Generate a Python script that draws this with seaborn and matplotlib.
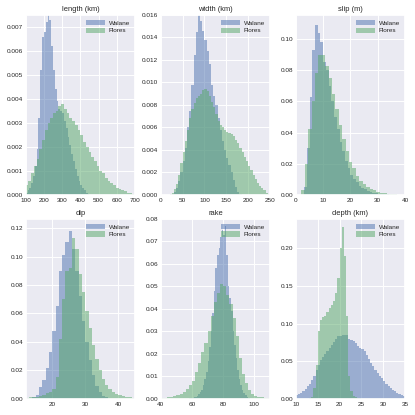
import numpy as np
import pandas as pd
import matplotlib
matplotlib.use("Agg")
import matplotlib.pyplot as plt
import matplotlib.ticker as mticker
import seaborn as sns

# ---------------- data (density heights per bin) ----------------
series_names = ["Walane", "Flores"]
panel_titles = ["length (km)", "width (km)", "slip (m)", "dip", "rake", "depth (km)"]

length_walane_range = (100, 450)
length_walane = [0.0001, 0.0002, 0.0003, 0.0005, 0.0008, 0.0012, 0.0019, 0.0032, 0.0052, 0.0066,
                 0.0068, 0.0072, 0.0075, 0.0073, 0.0062, 0.0052, 0.0044, 0.0039, 0.0036, 0.0035,
                 0.0034, 0.0031, 0.0028, 0.0024, 0.0021, 0.0017, 0.0014, 0.0011, 0.0008, 0.0006,
                 0.0004, 0.0003, 0.0002, 0.0001, 0.00005]
length_flores_range = (100, 700)
length_flores = [0.0004, 0.0006, 0.0009, 0.0012, 0.0015, 0.0019, 0.0023, 0.0027, 0.0030, 0.0032,
                 0.0034, 0.0035, 0.0037, 0.0038, 0.0036, 0.0034, 0.0032, 0.0031, 0.0029, 0.0027,
                 0.0025, 0.0022, 0.0020, 0.0018, 0.0016, 0.0014, 0.0012, 0.0010, 0.0009, 0.0007,
                 0.0006, 0.0005, 0.0004, 0.0003, 0.00025, 0.0002, 0.00015, 0.0001, 0.00007, 0.00004]

width_walane_range = (25, 185)
width_walane = [0.0001, 0.0003, 0.0006, 0.0012, 0.0020, 0.0030, 0.0042, 0.0060, 0.0075, 0.0098,
                0.0124, 0.0145, 0.0160, 0.0155, 0.0146, 0.0138, 0.0128, 0.0116, 0.0098, 0.0088,
                0.0080, 0.0068, 0.0058, 0.0048, 0.0040, 0.0033, 0.0027, 0.0020, 0.0013, 0.0007,
                0.0003, 0.0001]
width_flores_range = (20, 250)
width_flores = [0.0001, 0.0002, 0.0005, 0.0010, 0.0018, 0.0028, 0.0038, 0.0048, 0.0058, 0.0068,
                0.0076, 0.0082, 0.0086, 0.0088, 0.0090, 0.0093, 0.0094, 0.0092, 0.0088, 0.0083,
                0.0078, 0.0072, 0.0066, 0.0062, 0.0060, 0.0058, 0.0056, 0.0055, 0.0054, 0.0052,
                0.0049, 0.0046, 0.0042, 0.0038, 0.0034, 0.0030, 0.0026, 0.0022, 0.0018, 0.0014,
                0.0011, 0.0008, 0.0006, 0.0004, 0.0002, 0.0001]

slip_walane_range = (3, 36)
slip_walane = [0.005, 0.030, 0.063, 0.093, 0.109, 0.104, 0.098, 0.085, 0.080, 0.070,
               0.060, 0.050, 0.042, 0.034, 0.028, 0.022, 0.017, 0.013, 0.010, 0.008,
               0.006, 0.0045, 0.0035, 0.0027, 0.0020, 0.0015, 0.0011, 0.0008, 0.0006, 0.0004,
               0.0003, 0.0002, 0.0001]
slip_flores_range = (2.0, 39.5)
slip_flores = [0.003, 0.020, 0.042, 0.060, 0.078, 0.090, 0.090, 0.083, 0.075, 0.065,
               0.055, 0.045, 0.036, 0.028, 0.021, 0.017, 0.012, 0.009, 0.007, 0.005,
               0.004, 0.003, 0.002, 0.0015, 0.001, 0.0008, 0.0005, 0.0003, 0.0002, 0.0001]

dip_walane_range = (14, 37)
dip_walane = [0.001, 0.003, 0.008, 0.013, 0.022, 0.033, 0.048, 0.065, 0.090, 0.101,
              0.110, 0.118, 0.105, 0.090, 0.072, 0.055, 0.040, 0.027, 0.017, 0.009,
              0.005, 0.002, 0.001]
dip_flores_range = (12, 45)
dip_flores = [0.0005, 0.001, 0.001, 0.0015, 0.002, 0.003, 0.004, 0.005, 0.007, 0.015,
              0.042, 0.070, 0.090, 0.092, 0.113, 0.105, 0.088, 0.075, 0.062, 0.050,
              0.038, 0.028, 0.020, 0.014, 0.010, 0.007, 0.005, 0.0035, 0.0025, 0.002,
              0.0015, 0.001, 0.0005]

rake_walane_range = (58, 97)
rake_walane = [0.0002, 0.0003, 0.0005, 0.0007, 0.001, 0.0014, 0.002, 0.003, 0.004, 0.006,
               0.009, 0.012, 0.017, 0.023, 0.030, 0.038, 0.048, 0.058, 0.064, 0.067,
               0.072, 0.075, 0.073, 0.077, 0.064, 0.050, 0.045, 0.039, 0.030, 0.024,
               0.018, 0.013, 0.009, 0.006, 0.004, 0.0025, 0.0015, 0.001, 0.0005]
rake_flores_range = (40, 110)
rake_flores = [0.0004, 0.0005, 0.0006, 0.0008, 0.0012, 0.0015, 0.002, 0.003, 0.0045, 0.006,
               0.0078, 0.012, 0.016, 0.021, 0.025, 0.030, 0.037, 0.043, 0.047, 0.051,
               0.050, 0.046, 0.042, 0.036, 0.028, 0.018, 0.011, 0.007, 0.004, 0.0022,
               0.0013, 0.001, 0.0007, 0.0005, 0.0002]

depth_walane_range = (10, 35)
depth_walane = [0.005, 0.006, 0.008, 0.010, 0.013, 0.017, 0.020, 0.025, 0.030, 0.038,
                0.045, 0.052, 0.056, 0.060, 0.063, 0.068, 0.072, 0.075, 0.079, 0.083,
                0.084, 0.085, 0.085, 0.085, 0.080, 0.078, 0.077, 0.074, 0.070, 0.067,
                0.066, 0.064, 0.058, 0.053, 0.048, 0.043, 0.038, 0.034, 0.030, 0.027,
                0.023, 0.020, 0.017, 0.014, 0.012, 0.010, 0.008, 0.006, 0.005, 0.004]
depth_flores_range = (13, 25)
depth_flores = [0.001, 0.003, 0.015, 0.045, 0.090, 0.105, 0.108, 0.110, 0.115, 0.120,
                0.125, 0.130, 0.140, 0.160, 0.200, 0.228, 0.190, 0.110, 0.030, 0.010,
                0.004, 0.002, 0.001, 0.0005]

panels = [
    (length_walane_range, length_walane, length_flores_range, length_flores, (100, 700), 0.0075),
    (width_walane_range, width_walane, width_flores_range, width_flores, (0, 250), 0.016),
    (slip_walane_range, slip_walane, slip_flores_range, slip_flores, (0, 40), 0.1155),
    (dip_walane_range, dip_walane, dip_flores_range, dip_flores, (12, 45), 0.1265),
    (rake_walane_range, rake_walane, rake_flores_range, rake_flores, (40, 110), 0.080),
    (depth_walane_range, depth_walane, depth_flores_range, depth_flores, (10, 35), 0.239),
]
x_steps = [100, 50, 10, 10, 20, 5]
y_steps = [0.001, 0.002, 0.02, 0.02, 0.01, 0.05]
y_formats = ["%.3f", "%.3f", "%.2f", "%.2f", "%.2f", "%.2f"]

# ---------------- style ----------------
sns.set_theme(style="darkgrid")
plt.rcParams["font.family"] = ["Liberation Sans", "DejaVu Sans"]
plt.rcParams["grid.linewidth"] = 0.7
palette = sns.color_palette("deep")
colors = [palette[0], palette[2]]

fig, axes = plt.subplots(2, 3, figsize=(4.15, 4.15), dpi=100)
fig.subplots_adjust(left=0.062, right=0.976, top=0.964, bottom=0.039,
                    wspace=0.237, hspace=0.133)

for i, (ax, title, (wr, wv, fr, fv, xlim, ytop)) in enumerate(zip(axes.flat, panel_titles, panels)):
    for name, rng, vals, col in [(series_names[0], wr, wv, colors[0]),
                                 (series_names[1], fr, fv, colors[1])]:
        edges = np.linspace(rng[0], rng[1], len(vals) + 1)
        centers = (edges[:-1] + edges[1:]) / 2
        df = pd.DataFrame({"x": centers, "h": vals})
        sns.histplot(data=df, x="x", weights="h", bins=[float(e) for e in edges],
                     element="step", fill=True, color=col, alpha=0.5,
                     linewidth=0, label=name, ax=ax)
    ax.set_xlim(*xlim)
    ax.set_ylim(0, ytop)
    ax.xaxis.set_major_locator(mticker.MultipleLocator(x_steps[i]))
    ax.yaxis.set_major_locator(mticker.MultipleLocator(y_steps[i]))
    ax.yaxis.set_major_formatter(mticker.FormatStrFormatter(y_formats[i]))
    ax.set_xlabel("")
    ax.set_ylabel("")
    ax.set_title(title, fontsize=5.4, pad=2.5)
    ax.tick_params(axis="x", labelsize=4.6, pad=2.2, length=0)
    ax.tick_params(axis="y", labelsize=4.6, pad=2.0, length=0)
    ax.legend(loc="upper right", fontsize=4.6, frameon=False,
              handlelength=3.0, handleheight=0.9, borderaxespad=0.4,
              labelspacing=0.25, handletextpad=0.6)

fig.savefig("out.png", dpi=100)
